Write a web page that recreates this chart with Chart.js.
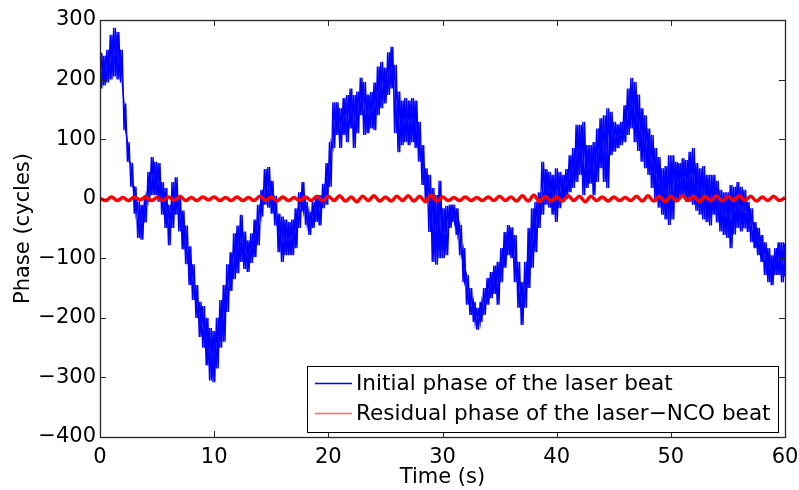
<!DOCTYPE html>
<html>
<head>
<meta charset="utf-8">
<script src="https://cdn.jsdelivr.net/npm/chart.js@4.4.1/dist/chart.umd.min.js"></script>
<style>
  html, body { margin: 0; padding: 0; background: #ffffff; }
  #wrap { width: 799px; height: 490px; }
</style>
</head>
<body>
<div id="wrap"><canvas id="c" width="799" height="490"></canvas></div>
<script>
// ---- Data ----
const xTicks = [0, 10, 20, 30, 40, 50, 60];
const yTicks = [-400, -300, -200, -100, 0, 100, 200, 300];
const seriesLabels = ['Initial phase of the laser beat', 'Residual phase of the laser\u2212NCO beat'];
const seriesColors = ['#0000ff', '#ff0000'];

// Initial phase: upper and lower edge of the noisy band, every 0.3 s (0 .. 60 s)
const blueStep = 0.3;
const blueHigh = [
  245,240,250,275,287,280,250,160,95,60,
  20,-5,-10,6,45,70,62,60,28,18,
  -10,28,36,6,-20,-45,-80,-110,-145,-173,
  -180,-200,-217,-222,-200,-170,-145,-110,-90,-58,
  -45,-27,-55,-70,-58,-35,-10,15,50,53,
  30,5,-25,-30,-35,-39,-35,-16,11,28,
  -5,-22,-5,6,6,25,60,95,162,162,
  152,169,174,185,174,180,203,196,175,179,
  195,222,230,220,246,255,225,180,165,169,
  165,169,165,129,90,51,40,18,6,30,
  -16,-12,-10,-10,-16,-44,-83,-128,-150,-173,
  -183,-173,-150,-133,-123,-112,-106,-83,-56,-44,
  -48,-61,-106,-140,-106,-49,-16,-5,11,62,
  50,45,40,51,45,40,50,73,85,124,
  124,129,90,90,95,118,135,140,152,146,
  129,125,129,157,185,203,196,175,152,140,
  118,107,85,70,51,55,73,73,62,60,
  68,65,79,85,60,51,55,40,40,40,
  30,15,11,11,23,20,28,20,15,-5,
  -16,-39,-49,-61,-73,-83,-95,-83,-73,-73,
  -75
];
const blueLow = [
  185,190,195,200,205,200,195,115,62,20,
  -25,-66,-69,-40,-5,6,6,-5,-27,-49,
  -78,-49,-27,-55,-85,-110,-145,-170,-200,-232,
  -250,-280,-305,-308,-285,-250,-240,-190,-155,-135,
  -125,-106,-118,-123,-108,-98,-78,-30,-10,-15,
  -25,-45,-90,-106,-95,-95,-95,-83,-49,-22,
  -44,-61,-49,-39,-45,-16,-10,20,85,107,
  85,107,95,118,85,110,140,107,110,118,
  115,140,152,160,174,185,110,78,90,95,
  90,95,85,62,23,-5,-56,-106,-111,-100,
  -100,-95,-49,-39,-61,-95,-140,-178,-195,-207,
  -220,-207,-195,-178,-167,-160,-178,-140,-116,-95,
  -100,-140,-183,-212,-183,-150,-116,-90,-49,-27,
  -10,-15,-27,-39,-16,-5,0,11,18,28,
  40,6,18,25,6,28,51,28,18,73,
  79,85,90,95,107,118,95,80,62,51,
  40,18,-5,-15,-27,-35,-44,-35,-5,0,
  6,-5,-5,-10,-20,-27,-35,-39,-45,-27,
  -40,-55,-61,-66,-83,-60,-49,-55,-50,-56,
  -73,-83,-95,-106,-128,-140,-145,-128,-128,-140,
  -130
];

// Residual phase: small ripple around zero, every 0.5 s (0 .. 60 s)
const redStep = 0.5;
const residual = [
  1,-3,3,-3,2,-3,3,-2,3,-3,
  2,-3,3,-3,4,-3,2,-3,3,-2,
  3,-3,2,-3,3,-3,2,-3,4,-3,
  3,-4,3,-3,2,-3,3,-3,4,-4,
  4,-3,5,-4,3,-5,4,-3,5,-4,
  3,-4,4,-3,5,-4,4,-5,6,-4,
  3,-3,2,-3,3,-3,2,-3,3,-3,
  4,-3,3,-4,5,-4,6,-5,4,-4,
  3,-4,5,-3,4,-5,4,-3,3,-4,
  3,-3,2,-3,4,-4,5,-4,4,-5,
  4,-4,5,-3,4,-5,4,-3,5,-4,
  4,-3,5,-3,4,-4,3,-3,4,-3,
  2
];

// ---- Build the point tables (two interleaved traces through the band edges) ----
const blueTraceA = [];
const blueTraceB = [];
blueHigh.forEach((v, i) => {
  const t = i * blueStep;
  const tHalf = Math.min(60, t + blueStep / 2);
  blueTraceA.push({ x: t, y: v });
  blueTraceA.push({ x: tHalf, y: blueLow[i] });
  blueTraceB.push({ x: t, y: blueLow[i] });
  blueTraceB.push({ x: tHalf, y: v });
});
const redPoints = residual.map((v, i) => ({ x: i * redStep, y: v }));

const FONT = 'DejaVu Sans';
const fmt = v => String(v).replace('-', '\u2212');

const framePlugin = {
  id: 'matlabFrame',
  afterDatasetsDraw(chart) {
    const { ctx, chartArea: a, scales } = chart;
    const x = scales.x, y = scales.y;
    ctx.save();
    ctx.strokeStyle = '#262626';
    ctx.lineWidth = 1;
    ctx.beginPath();
    x.ticks.forEach(t => {
      const px = Math.round(x.getPixelForValue(t.value)) + 0.5;
      ctx.moveTo(px, a.bottom); ctx.lineTo(px, a.bottom - 6);
      ctx.moveTo(px, a.top); ctx.lineTo(px, a.top + 6);
    });
    y.ticks.forEach(t => {
      const py = Math.round(y.getPixelForValue(t.value)) + 0.5;
      ctx.moveTo(a.left, py); ctx.lineTo(a.left + 6, py);
      ctx.moveTo(a.right, py); ctx.lineTo(a.right - 6, py);
    });
    ctx.stroke();
    ctx.lineWidth = 1.3;
    ctx.strokeRect(Math.round(a.left) + 0.5, Math.round(a.top) + 0.5,
                   Math.round(a.right - a.left), Math.round(a.bottom - a.top));
    ctx.restore();
  },
  afterDraw(chart) {
    // legend box inside the axes, lower right
    const { ctx, chartArea: a } = chart;
    const bx = 307, by = 366, bw = Math.round(a.right) - 7 - bx, bh = 66;
    ctx.save();
    ctx.fillStyle = '#ffffff';
    ctx.fillRect(bx, by, bw, bh);
    ctx.strokeStyle = '#000000';
    ctx.lineWidth = 1;
    ctx.strokeRect(bx + 0.5, by + 0.5, bw, bh);
    const rows = [383, 413];
    ctx.font = '21.6px "' + FONT + '"';
    ctx.textBaseline = 'middle';
    ctx.textAlign = 'left';
    seriesLabels.forEach((label, i) => {
      ctx.strokeStyle = seriesColors[i];
      ctx.globalAlpha = i === 1 ? 0.6 : 1;
      ctx.lineWidth = 1.5;
      ctx.beginPath();
      ctx.moveTo(315, rows[i] + 0.5); ctx.lineTo(352, rows[i] + 0.5);
      ctx.stroke();
      ctx.globalAlpha = 1;
      ctx.fillStyle = '#000000';
      ctx.fillText(label, 356, rows[i] + 1);
    });
    ctx.restore();
  }
};

new Chart(document.getElementById('c'), {
  type: 'line',
  data: {
    datasets: [
      {
        label: seriesLabels[1],
        data: redPoints,
        borderColor: seriesColors[1],
        borderWidth: 3.5,
        pointRadius: 0,
        tension: 0.35,
        fill: false,
        order: 0
      },
      {
        label: seriesLabels[0],
        data: blueTraceA,
        borderColor: seriesColors[0],
        borderWidth: 1.4,
        pointRadius: 0,
        tension: 0,
        fill: false,
        order: 1
      },
      {
        label: seriesLabels[0] + ' (b)',
        data: blueTraceB,
        borderColor: seriesColors[0],
        borderWidth: 1.4,
        pointRadius: 0,
        tension: 0,
        fill: false,
        order: 1
      }
    ]
  },
  options: {
    responsive: false,
    animation: false,
    events: [],
    layout: { padding: { top: 20, right: 14, left: 0, bottom: 0 } },
    plugins: { legend: { display: false }, tooltip: { enabled: false } },
    scales: {
      x: {
        type: 'linear',
        min: 0, max: 60,
        afterBuildTicks(s) { s.ticks = xTicks.map(v => ({ value: v })); },
        afterFit(s) { s.height = 53; s.paddingLeft = 0; s.paddingRight = 0; },
        grid: { display: false, drawTicks: false },
        border: { display: false },
        ticks: { color: '#000', font: { family: FONT, size: 21 }, padding: 8, maxRotation: 0, callback: fmt },
        title: { display: true, text: 'Time (s)', color: '#000', font: { family: FONT, size: 21 }, padding: { top: 0, bottom: 0 } }
      },
      y: {
        type: 'linear',
        min: -400, max: 300,
        afterBuildTicks(s) { s.ticks = yTicks.map(v => ({ value: v })); },
        afterFit(s) { s.width = 100; s.paddingTop = 0; s.paddingBottom = 0; },
        grid: { display: false, drawTicks: false },
        border: { display: false },
        ticks: { color: '#000', font: { family: FONT, size: 21 }, padding: 4, callback: fmt },
        title: { display: true, text: 'Phase (cycles)', color: '#000', font: { family: FONT, size: 21 }, padding: { top: 11, bottom: 0 } }
      }
    }
  },
  plugins: [framePlugin]
});
</script>
</body>
</html>
